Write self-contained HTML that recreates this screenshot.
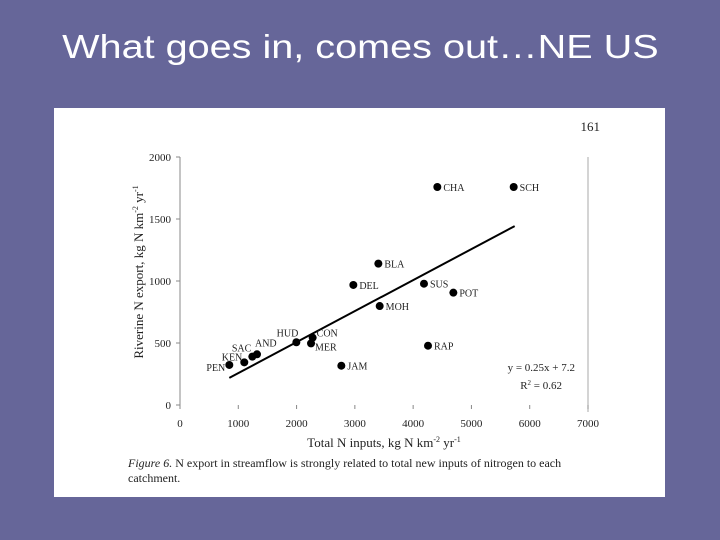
<!DOCTYPE html>
<html><head><meta charset="utf-8"><style>
body{margin:0;width:720px;height:540px;background:#666699;position:relative;overflow:hidden;font-family:"Liberation Sans",sans-serif}
#title{position:absolute;left:0;width:720px;top:28px;text-align:center;color:#fff;font-size:33px;transform:scaleX(1.2);transform-origin:358px 0;white-space:nowrap}
#panel{position:absolute;left:54px;top:108px;width:611px;height:389px;background:#fff}
svg{position:absolute;left:0;top:0}
</style></head><body>
<div id="title">What goes in, comes out…NE US</div>
<div id="panel"></div>
<svg id="chart" width="720" height="540" font-family="Liberation Serif, serif"></svg>
<script>
const names=["PEN","KEN","SAC","AND","HUD","CON","MER","JAM","DEL","BLA","MOH","SUS","POT","RAP","CHA","SCH"];
const xInputs=[846,1103,1241,1321,1996,2276,2248,2768,2974,3403,3426,4186,4690,4255,4415,5725];
const yExport=[323,344,390,409,506,543,497,317,968,1140,798,978,906,478,1758,1758];
const xTicks=[0,1000,2000,3000,4000,5000,6000,7000];
const yTicks=[0,500,1000,1500,2000];
const fitSlope=0.25, fitIntercept=7.2, fitRange=[846,5742];
const X=v=>180+v/7000*408, Y=v=>405-v/2000*248;
const s=document.getElementById('chart');const NS='http://www.w3.org/2000/svg';
function mk(t,a,txt){const e=document.createElementNS(NS,t);for(const k in a)e.setAttribute(k,a[k]);if(txt!=null)e.textContent=txt;s.appendChild(e);return e;}
let e;
e=mk('line',{x1:180,y1:157,x2:180,y2:405,stroke:'#888','stroke-width':1});


e=mk('line',{x1:588,y1:157,x2:588,y2:412,stroke:'#aaa','stroke-width':1});


xTicks.forEach(t=>{e=mk('text',{x:X(t),y:427,'text-anchor':'middle','font-size':11,fill:'#222'},t);


mk('line',{x1:X(t),y1:405,x2:X(t),y2:409,stroke:'#888'});});
yTicks.forEach(t=>{e=mk('text',{x:171,y:Y(t)+4,'text-anchor':'end','font-size':11,fill:'#222'},t);


mk('line',{x1:176,y1:Y(t),x2:180,y2:Y(t),stroke:'#888'});});
e=mk('line',{x1:X(fitRange[0]),y1:Y(fitSlope*fitRange[0]+fitIntercept),x2:X(fitRange[1]),y2:Y(fitSlope*fitRange[1]+fitIntercept),stroke:'#000','stroke-width':2});


names.forEach((n,i)=>{const cx=X(xInputs[i]),cy=Y(yExport[i]);
e=mk('circle',{cx:cx,cy:cy,r:4,fill:'#000'});


let lx=cx+6,ly=cy+4,anc='start';
if(n==='PEN'){lx=cx-4;ly=cy+6;anc='end';}
if(n==='KEN'){lx=cx-2;ly=cy-2;anc='end';}
if(n==='SAC'){lx=cx-1;ly=cy-5;anc='end';}
if(n==='AND'){lx=cx-2;ly=cy-8;}
if(n==='HUD'){lx=cx+2;ly=cy-6;anc='end';}
if(n==='CON'){lx=cx+4;ly=cy-1;}
if(n==='MER'){lx=cx+4;ly=cy+7;}
e=mk('text',{x:lx,y:ly,'text-anchor':anc,'font-size':10,fill:'#222'},n);

});
e=mk('text',{x:384,y:447,'text-anchor':'middle','font-size':13,fill:'#222'});
e.innerHTML='Total N inputs, kg N km<tspan dy="-5" font-size="8">-2</tspan><tspan dy="5"> yr</tspan><tspan dy="-5" font-size="8">-1</tspan>';


e=mk('text',{x:0,y:0,'text-anchor':'middle','font-size':13,fill:'#222',transform:'translate(143,272) rotate(-90)'});
e.innerHTML='Riverine N export, kg N km<tspan dy="-5" font-size="8">-2</tspan><tspan dy="5"> yr</tspan><tspan dy="-5" font-size="8">-1</tspan>';


e=mk('text',{x:575,y:371,'text-anchor':'end','font-size':11,fill:'#222'},'y = 0.25x + 7.2');


e=mk('text',{x:562,y:389,'text-anchor':'end','font-size':11,fill:'#222'});
e.innerHTML='R<tspan dy="-4" font-size="7">2</tspan><tspan dy="4"> = 0.62</tspan>';


e=mk('text',{x:600,y:131,'text-anchor':'end','font-size':13,fill:'#222'},'161');


e=mk('text',{x:128,y:467,'font-size':12,fill:'#222'});
e.innerHTML='<tspan font-style="italic">Figure 6.</tspan>  N export in streamflow is strongly related to total new inputs of nitrogen to each';


e=mk('text',{x:128,y:482,'font-size':12,fill:'#222'},'catchment.');


</script>
</body></html>
